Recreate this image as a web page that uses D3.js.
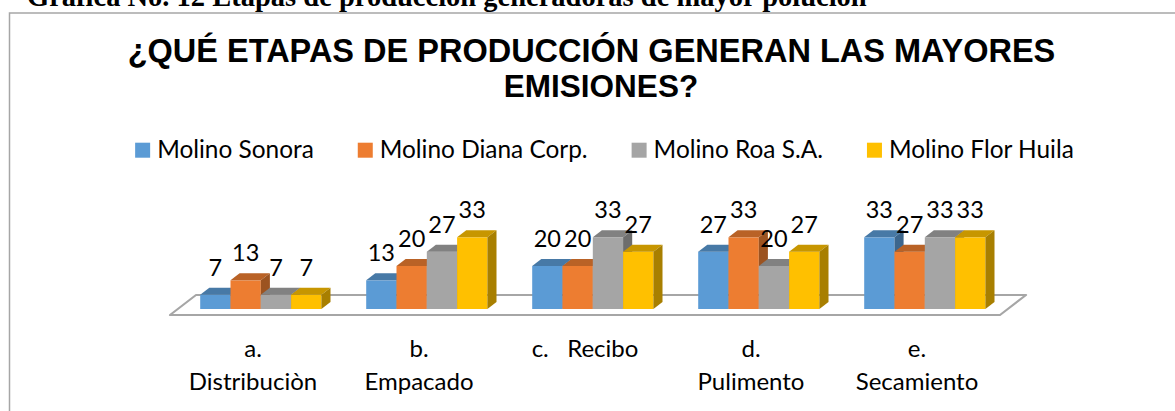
<!DOCTYPE html>
<html lang="es">
<head>
<meta charset="UTF-8">
<title>Etapas de producción</title>
<script src="https://d3js.org/d3.v7.min.js"></script>
<style>
  body { margin: 0; background: #fff; }
  text { font-family: Lato, "Noto Sans", sans-serif; fill: #000; }
</style>
</head>
<body>
<svg width="1175" height="411"></svg>
<script>
// categories (stages) and the two-line tick labels under the floor
var categories = ["a. Distribuciòn", "b. Empacado", "c. Recibo", "d. Pulimento", "e. Secamiento"];
var tickLines = [["a.", "Distribuciòn"], ["b.", "Empacado"], ["c.   Recibo"], ["d.", "Pulimento"], ["e.", "Secamiento"]];

// series names and colours
var series = ["Molino Sonora", "Molino Diana Corp.", "Molino Roa S.A.", "Molino Flor Huila"];
var colors = ["#5b9bd5", "#ed7d31", "#a5a5a5", "#ffc000"];

// percentages (answers out of 15), one array per mill
var sonora = [6.67, 13.33, 20, 26.67, 33.33];
var diana  = [13.33, 20, 20, 33.33, 26.67];
var roa    = [6.67, 26.67, 33.33, 20, 33.33];
var flor   = [6.67, 33.33, 26.67, 26.67, 33.33];
var values = [sonora, diana, roa, flor];

var svg = d3.select("svg");

// caption of the document, cut at the top of the picture
svg.append("text")
    .attr("x", 27)
    .attr("y", 6)
    .style("font-family", "'Liberation Serif', serif")
    .style("font-weight", "bold")
    .style("font-size", "28.5px")
    .text("Gráfica No. 12 Etapas de producción generadoras de mayor polución");

// chart frame (runs off the right and bottom)
svg.append("rect")
    .attr("x", 9.5).attr("y", 13)
    .attr("width", 1200).attr("height", 420)
    .attr("fill", "#fff")
    .attr("stroke", "#a6a6a6")
    .attr("stroke-width", 1.5);

// title
var title = svg.append("g")
    .style("font-weight", "bold");
title.append("text").attr("x", 591.5).attr("y", 62).attr("text-anchor", "middle")
    .style("font-family", "'Liberation Sans', Arial, sans-serif")
    .style("font-size", "32.5px")
    .text("¿QUÉ ETAPAS DE PRODUCCIÓN GENERAN LAS MAYORES");
title.append("text").attr("x", 601).attr("y", 97).attr("text-anchor", "middle")
    .style("font-family", "'Liberation Sans', Arial, sans-serif")
    .style("font-size", "31.5px")
    .text("EMISIONES?");

// legend
var legend = svg.append("g");
var items = legend.selectAll("g").data(series).enter().append("g");
items.append("rect")
    .attr("width", 15).attr("height", 15)
    .attr("y", 142.7)
    .attr("fill", function(d, i) { return colors[i]; });
items.append("text")
    .attr("x", 22).attr("y", 157.5)
    .style("font-size", "24.4px")
    .text(function(d) { return d; });
var widths = [];
items.select("text").each(function() { widths.push(this.getComputedTextLength()); });
var total = d3.sum(widths) + series.length * 22 + (series.length - 1) * 44;
var lx = 604.5 - total / 2;
items.attr("transform", function(d, i) {
    var t = "translate(" + lx + ",0)";
    lx += 22 + widths[i] + 44;
    return t;
});

// 3D geometry
var floorY = 315, floorLeft = 170, floorRight = 1000;
var depth = [26, -20];          // full floor depth
var barOff = 0.3, barDepth = 0.35;

var x = d3.scaleBand()
    .domain(categories)
    .range([floorLeft, floorRight]);

var inner = d3.scaleBand()
    .domain(series)
    .range([0, 121.2]);

var y = d3.scaleLinear()
    .domain([0, 40])
    .range([floorY + depth[1] * barOff, floorY + depth[1] * barOff - 86]);

// floor
svg.append("polygon")
    .attr("points", [
        [floorLeft, floorY],
        [floorRight, floorY],
        [floorRight + depth[0], floorY + depth[1]],
        [floorLeft + depth[0], floorY + depth[1]]
    ].join(" "))
    .attr("fill", "#fff")
    .attr("stroke", "#a6a6a6")
    .attr("stroke-width", 2.2)
    .attr("stroke-linejoin", "round");

function shade(c, f) {
    var r = d3.rgb(c);
    return d3.rgb(r.r * f, r.g * f, r.b * f).formatHex();
}

var bw = inner.bandwidth();
var ddx = depth[0] * barDepth, ddy = depth[1] * barDepth;

var bars = [];
categories.forEach(function(cat, ci) {
    series.forEach(function(s, si) {
        bars.push({cat: cat, s: s, si: si, v: values[si][ci]});
    });
});

function barX(d) {
    return x(d.cat) + x.bandwidth() / 2 - 121.2 / 2 + inner(d.s) + depth[0] * barOff;
}

var bar = svg.append("g").selectAll("g").data(bars).enter().append("g");

bar.append("rect")
    .attr("x", barX)
    .attr("y", function(d) { return y(d.v); })
    .attr("width", bw)
    .attr("height", function(d) { return y(0) - y(d.v); })
    .attr("fill", function(d) { return colors[d.si]; });

bar.append("polygon")
    .attr("points", function(d) {
        var x0 = barX(d), yt = y(d.v);
        return [[x0, yt], [x0 + ddx, yt + ddy], [x0 + bw + ddx, yt + ddy], [x0 + bw, yt]].join(" ");
    })
    .attr("fill", function(d) { return shade(colors[d.si], 0.78); });

bar.append("polygon")
    .attr("points", function(d) {
        var x0 = barX(d) + bw, yt = y(d.v), yb = y(0);
        return [[x0, yt], [x0 + ddx, yt + ddy], [x0 + ddx, yb + ddy], [x0, yb]].join(" ");
    })
    .attr("fill", function(d) { return shade(colors[d.si], 0.66); });

// data labels
svg.append("g").selectAll("text").data(bars).enter().append("text")
    .attr("x", function(d) { return barX(d) + bw / 2; })
    .attr("y", function(d) { return y(d.v) + ddy - 12; })
    .attr("text-anchor", "middle")
    .style("font-size", "23.5px")
    .text(function(d) { return d3.format(".0f")(d.v); });

// category axis
var axis = svg.append("g")
    .attr("transform", "translate(0," + floorY + ")")
    .call(d3.axisBottom(x).tickSize(0).tickFormat(""));
axis.select(".domain").remove();
axis.selectAll(".tick text")
    .attr("y", 0).attr("dy", null)
    .style("font-size", "24px")
    .style("white-space", "pre")
    .attr("fill", "#000")
    .each(function(d, i) {
        var t = d3.select(this);
        tickLines[i].forEach(function(line, k) {
            t.append("tspan").attr("x", 0).attr("y", 41.7 + k * 33).text(line);
        });
    });
</script>
</body>
</html>
